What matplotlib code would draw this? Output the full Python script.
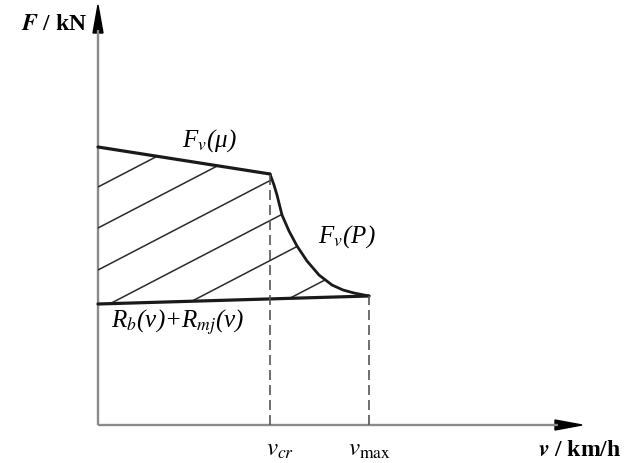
import numpy as np
import matplotlib.pyplot as plt
from matplotlib.patches import Polygon

plt.rcParams['font.family'] = ['Liberation Serif', 'DejaVu Serif']
plt.rcParams['mathtext.fontset'] = 'stix'

# schematic values (arbitrary units)
v_cr = 172
v_max = 271

# adhesion limit F_v(mu)
v_mu = [0, 172]
F_mu = [278, 251]

# power limit F_v(P), hyperbola-like drop
v_P = [172, 176, 179, 184, 191, 199, 209, 221, 234, 245, 256, 266, 271]
F_P = [251, 240, 230, 210, 194, 179, 164, 150, 140, 135, 132, 130, 129]

# resistance R_b(v) + R_mj(v)
v_R = [0, 271]
F_R = [121, 129]

# hatch lines: intercepts on the F axis, common slope
hatch_b = [238, 197, 155, 115, 75, 27]
hatch_k = 0.52

fig = plt.figure(figsize=(6.38, 4.63), dpi=100)
ax = fig.add_axes([0, 0, 1, 1])
ax.set_xlim(-98, 540)
ax.set_ylim(-38, 425)
ax.axis('off')

axis_c = '#8a8a8a'
# axes with arrows
ax.plot([0, 460], [0, 0], color=axis_c, lw=1.7, solid_capstyle='butt')
ax.plot([0, 0], [0, 395], color=axis_c, lw=1.7, solid_capstyle='butt')
ax.arrow(455, 0, 29, 0, width=0, head_width=10, head_length=27,
         length_includes_head=True, fc='k', ec='k')
ax.arrow(0, 390, 0, 30, width=0, head_width=10, head_length=28,
         length_includes_head=True, fc='k', ec='k')

# region between traction and resistance
poly_x = v_mu + v_P[1:] + v_R[::-1]
poly_y = F_mu + F_P[1:] + F_R[::-1]
region = Polygon(np.column_stack([poly_x, poly_y]), closed=True,
                 fc='none', ec='none')
ax.add_patch(region)
xs = np.array([0, v_max])
for b in hatch_b:
    ln, = ax.plot(xs, b + hatch_k * xs, color='#2a2a2a', lw=1.1)
    ln.set_clip_path(region)

# curves
ax.plot(v_mu, F_mu, color='#1a1a1a', lw=2.3, solid_capstyle='round')
ax.plot(v_P, F_P, color='#1a1a1a', lw=2.0, solid_capstyle='round',
        solid_joinstyle='round')
ax.plot(v_R, F_R, color='#1a1a1a', lw=2.3, solid_capstyle='round')

# dashed guides
ax.plot([v_cr, v_cr], [0, F_mu[-1]], color='#555555', lw=1.2, ls=(0, (6, 3)))
ax.plot([v_max, v_max], [0, F_R[-1]], color='#555555', lw=1.2, ls=(0, (6, 3)))

# labels
fs = 18
it = dict(fontsize=fs, ha='center', va='center', style='italic')
ax.text(-44, 401, r'$\mathbfit{F}$ / kN', fontsize=17, fontweight='bold',
        ha='center', va='center')
ax.text(482, -25, r'$\mathbfit{v}$ / km/h', fontsize=17, fontweight='bold',
        ha='center', va='center')
ax.text(112, 284, r'F$_v$(μ)', **it)
ax.text(249, 188, r'F$_v$(P)', **it)
ax.text(80, 103, r'R$_b$(v)+R$_{mj}$(v)', **it)
ax.text(v_cr + 10, -25, r'$v_{cr}$', fontsize=fs, ha='center', va='center')
ax.text(v_max, -25, r'$v_{\mathrm{max}}$', fontsize=fs, ha='center', va='center')

fig.savefig('out.png', dpi=100)
